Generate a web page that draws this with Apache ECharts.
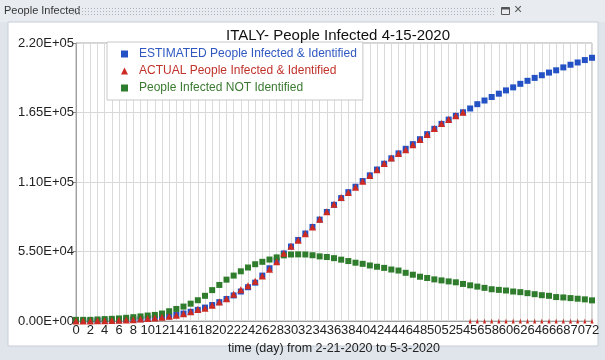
<!DOCTYPE html>
<html><head><meta charset="utf-8">
<script src="https://cdn.jsdelivr.net/npm/echarts@6/dist/echarts.min.js"></script>
<style>html,body{margin:0;padding:0;background:#dfe5eb;}#c{width:605px;height:360px;}</style>
</head><body><div id="c"></div>
<script>
// Days 0..72 (from 2-21-2020)
const days = Array.from({length: 73}, (_, i) => i);
const xTickLabels = days.filter(d => d % 2 === 0).map(String);
const yTickValues = [0, 55000, 110000, 165000, 220000];

const estimated = [100,150,200,280,380,500,660,870,1130,1470,
  1900,2450,3100,3900,4850,6000,7350,8900,10700,12700,
  15000,17500,20300,23400,26800,30400,36000,41800,47600,53500,
  59000,64200,69300,74500,80300,86300,92000,97300,102000,106300,
  110800,115300,119900,124500,128800,132700,136300,140000,143900,147900,
  152100,156000,159400,162400,165200,168200,171600,174500,177300,179900,
  182500,184900,187700,190100,192400,194500,196600,198400,200700,202800,
  204600,206500,208300];

const actual = [20,79,150,229,322,400,650,888,1128,1694,
  2036,2502,3089,3858,4636,5883,7375,9172,10149,12462,
  15113,17660,21157,24747,27980,31506,35713,41035,47021,53578,
  59138,63927,69176,74386,80589,86498,92472,97689,101739,105792,
  110574,115242,119827,124632,128948,132547,135586,139422,143626,147577,
  152271,156363,159516,162488,165155,0,0,0,0,0,
  0,0,0,0,0,0,0,0,0,0,
  0,0,0];

const notIdentified = [1000,1000,1000,1300,1600,1800,2100,2600,3100,3700,
  4400,4900,6000,7800,9600,11500,13800,16500,20000,24500,
  28600,32800,36000,39400,42400,45000,46900,48700,50400,52000,
  52700,52800,52700,52100,51200,50700,49800,48600,47500,46200,
  45300,44000,43000,42100,40800,40000,38200,36700,35100,34100,
  33000,32200,31400,30700,29400,28300,27300,26300,25200,24700,
  24200,23400,22900,22100,21300,20500,20000,19000,18700,18200,
  17700,17200,16400];

const names = ['ESTIMATED People Infected & Identified','ACTUAL People Infected & Identified','People Infected NOT Identified'];
const colors = ['#2452c4','#cc2a22','#2f7d2c'];
const textColors = ['#2e58c0','#c0332b','#3a7a30'];

function sci(v){
  if (v === 0) return '0.00E+00';
  const e = Math.floor(Math.log10(Math.abs(v)));
  const m = (v / Math.pow(10, e)).toFixed(2);
  return m + 'E' + (e >= 0 ? '+' : '-') + String(Math.abs(e)).padStart(2, '0');
}
const pair = arr => arr.map((v, i) => [days[i], v]);

const chart = echarts.init(document.getElementById('c'), null, {renderer: 'canvas'});
const font = 'Liberation Sans, Arial, sans-serif';
chart.setOption({
  backgroundColor: '#dfe5eb',
  animation: false,
  textStyle: {fontFamily: font},
  graphic: [
    {type: 'rect', shape: {x: 0, y: 0, width: 605, height: 22}, style: {fill: '#e8ecf1'}, z: -10},
    {type: 'rect', shape: {x: 8, y: 22, width: 590, height: 324}, style: {fill: '#ffffff', stroke: '#c5ced8', lineWidth: 1}, z: -10},
    {type: 'text', left: 4, top: 5, style: {text: 'People Infected', fontSize: 11, fill: '#333', fontFamily: font}},
    {type: 'line', shape: {x1: 73, y1: 8.5, x2: 494, y2: 8.5}, style: {stroke: '#aab3bd', lineWidth: 1, lineDash: [1, 2]}},
    {type: 'line', shape: {x1: 73, y1: 11.5, x2: 494, y2: 11.5}, style: {stroke: '#aab3bd', lineWidth: 1, lineDash: [1, 2]}},
    {type: 'line', shape: {x1: 73, y1: 14.5, x2: 494, y2: 14.5}, style: {stroke: '#aab3bd', lineWidth: 1, lineDash: [1, 2]}},
    {type: 'rect', shape: {x: 501.5, y: 7.5, width: 8, height: 7}, style: {fill: 'none', stroke: '#555', lineWidth: 1}},
    {type: 'line', shape: {x1: 501.5, y1: 8.5, x2: 509.5, y2: 8.5}, style: {stroke: '#555', lineWidth: 2}},
    {type: 'text', left: 514, top: 3, style: {text: '×', fontSize: 14, fill: '#555', fontFamily: font}}
  ],
  title: {
    text: 'ITALY- People Infected 4-15-2020',
    left: 333, top: 23, textAlign: 'center',
    textStyle: {fontSize: 15, fontWeight: 'normal', color: '#111', fontFamily: font}
  },
  legend: {
    orient: 'vertical', left: 107, top: 42,
    padding: [6, 6, 6, 14],
    backgroundColor: '#ffffff',
    borderColor: '#c8c8c8', borderWidth: 1,
    itemWidth: 7, itemHeight: 7, itemGap: 5,
    textStyle: {fontSize: 12, fontFamily: font, padding: [0, 0, 0, 6]},
    data: names.map((n, i) => ({name: n, icon: i === 1 ? 'triangle' : 'rect', textStyle: {color: textColors[i]}}))
  },
  grid: {left: 76, right: 13, top: 43, bottom: 35, show: true, borderColor: '#a8a8a8', borderWidth: 1},
  xAxis: {
    type: 'value', min: 0, max: 72, interval: 1,
    name: 'time (day) from 2-21-2020 to 5-3-2020', nameLocation: 'middle', nameGap: 17,
    nameTextStyle: {fontSize: 12.5, color: '#222', fontFamily: font},
    axisLine: {show: true, lineStyle: {color: '#a0a0a0'}},
    axisTick: {show: false},
    axisLabel: {fontSize: 13, color: '#222', margin: 3, fontFamily: font,
      formatter: v => xTickLabels.includes(String(v)) ? String(v) : ''},
    splitLine: {show: true, lineStyle: {color: '#dadada', width: 1}}
  },
  yAxis: {
    type: 'value', min: 0, max: 220000, interval: 55000,
    axisLine: {show: true, lineStyle: {color: '#a0a0a0'}},
    axisTick: {show: true, length: 3, lineStyle: {color: '#888'}},
    axisLabel: {fontSize: 13, color: '#222', margin: 2, fontFamily: font,
      formatter: v => yTickValues.includes(v) ? sci(v) : ''},
    splitLine: {show: true, lineStyle: {color: '#d8d8d8'}}
  },
  series: [
    {name: names[0], type: 'scatter', data: pair(estimated), symbol: 'rect', symbolSize: 6,
      itemStyle: {color: colors[0], opacity: 1}, z: 2},
    {name: names[1], type: 'scatter', data: pair(actual), symbol: 'triangle',
      symbolSize: (v) => v[1] === 0 ? [3, 5] : 7,
      itemStyle: {color: colors[1], opacity: 1}, z: 3},
    {name: names[2], type: 'scatter', data: pair(notIdentified), symbol: 'rect', symbolSize: 6,
      itemStyle: {color: colors[2], opacity: 1}, z: 2}
  ]
});
</script></body></html>
